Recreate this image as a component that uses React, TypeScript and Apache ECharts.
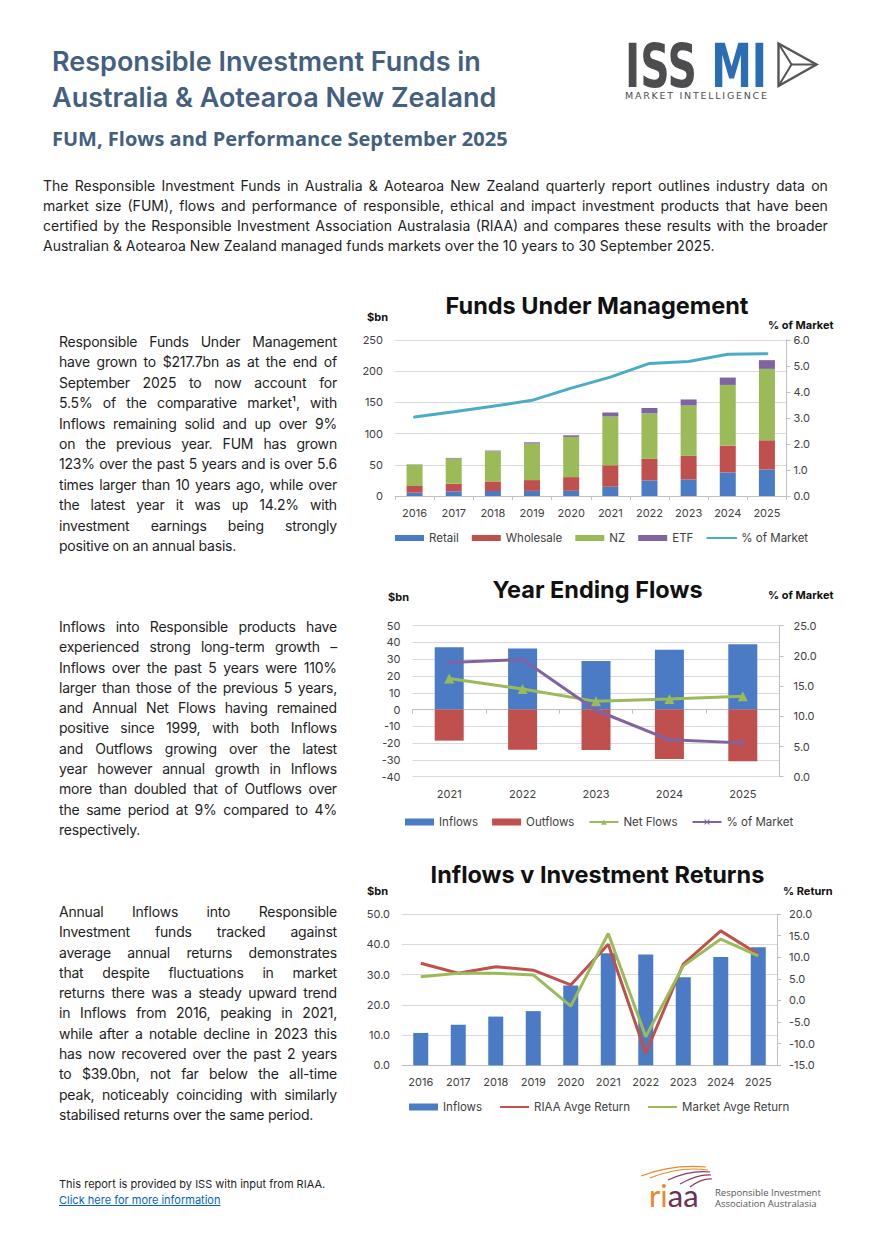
import React, { useEffect, useRef } from "react";
import * as echarts from "echarts";

// ---------------- DATA ----------------
const years10 = ["2016", "2017", "2018", "2019", "2020", "2021", "2022", "2023", "2024", "2025"];
const fumRetail = [5.3, 7.5, 8.0, 8.2, 8.3, 14.9, 25.0, 26.6, 37.7, 42.5];
const fumWholesale = [10.7, 12.2, 15.4, 17.3, 22.0, 34.5, 34.5, 37.7, 43.1, 46.8];
const fumNZ = [34.5, 40.3, 48.4, 58.5, 64.4, 78.2, 72.9, 80.7, 97.2, 114.4];
const fumETF = [0.3, 1.0, 1.0, 2.0, 2.6, 6.4, 8.6, 9.7, 11.8, 14.0];
const fumPctMarket = [3.04, 3.24, 3.45, 3.68, 4.15, 4.57, 5.1, 5.17, 5.45, 5.47];

const years5 = ["2021", "2022", "2023", "2024", "2025"];
const flowInflows = [37.1, 36.4, 29.0, 35.7, 39.0];
const flowOutflows = [-18.5, -24.0, -24.1, -29.4, -30.8];
const flowNet = [18.5, 12.3, 4.9, 6.3, 8.0];
const flowPctMarket = [18.9, 19.4, 11.0, 6.1, 5.6];

const retInflows = [10.7, 13.4, 16.1, 17.9, 26.4, 37.0, 36.6, 29.1, 35.8, 39.0];
const retRIAA = [8.6, 6.3, 7.8, 7.0, 3.6, 13.0, -12.2, 8.4, 16.1, 10.7];
const retMarket = [5.5, 6.3, 6.3, 5.9, -1.3, 15.5, -8.4, 8.0, 14.2, 10.3];

const introLines = [
  "The Responsible Investment Funds in Australia & Aotearoa New Zealand quarterly report outlines industry data on",
  "market size (FUM), flows and performance of responsible, ethical and impact investment products that have been",
  "certified by the Responsible Investment Association Australasia (RIAA) and compares these results with the broader",
  "Australian & Aotearoa New Zealand managed funds markets over the 10 years to 30 September 2025.",
];
const para1 = [
  "Responsible Funds Under Management",
  "have grown to $217.7bn as at the end of",
  "September 2025 to now account for",
  "5.5% of the comparative market¹, with",
  "Inflows remaining solid and up over 9%",
  "on the previous year. FUM has grown",
  "123% over the past 5 years and is over 5.6",
  "times larger than 10 years ago, while over",
  "the latest year it was up 14.2% with",
  "investment earnings being strongly",
  "positive on an annual basis.",
];
const para2 = [
  "Inflows into Responsible products have",
  "experienced strong long-term growth –",
  "Inflows over the past 5 years were 110%",
  "larger than those of the previous 5 years,",
  "and Annual Net Flows having remained",
  "positive since 1999, with both Inflows",
  "and Outflows growing over the latest",
  "year however annual growth in Inflows",
  "more than doubled that of Outflows over",
  "the same period at 9% compared to 4%",
  "respectively.",
];
const para3 = [
  "Annual Inflows into Responsible",
  "Investment funds tracked against",
  "average annual returns demonstrates",
  "that despite fluctuations in market",
  "returns there was a steady upward trend",
  "in Inflows from 2016, peaking in 2021,",
  "while after a notable decline in 2023 this",
  "has now recovered over the past 2 years",
  "to $39.0bn, not far below the all-time",
  "peak, noticeably coinciding with similarly",
  "stabilised returns over the same period.",
];

// ---------------- STYLE ----------------
const FONT = "Inter, 'Noto Sans', sans-serif";
const BLUE = "#4a7bc4";
const RED = "#c0504d";
const GREEN = "#9bbb59";
const PURPLE = "#8064a2";
const AQUA = "#4bacc6";
const LABEL = "#404040";
const GRIDC = "#d9d9d9";
const AXISC = "#bfbfbf";
const XPATH = "path://M0,1.4L1.4,0L5,3.6L8.6,0L10,1.4L6.4,5L10,8.6L8.6,10L5,6.4L1.4,10L0,8.6L3.6,5Z";

const fmt1 = (v: number) => v.toFixed(1);

function gText(text: string, x: number, y: number, size: number, weight: any, align: string) {
  return {
    type: "text",
    silent: true,
    style: {
      text,
      x,
      y,
      textAlign: align,
      textVerticalAlign: "middle",
      fontFamily: FONT,
      fontSize: size,
      fontWeight: weight,
      fill: "#111111",
    },
  };
}

const lbl = (margin: number, extra: any = {}) => ({ color: LABEL, fontFamily: FONT, fontSize: 11, margin, ...extra });
const legendText = { fontFamily: FONT, fontSize: 11.5, color: LABEL };
const noSymbol = { itemStyle: { opacity: 0 } };

const fumOption = {
  animation: false,
  textStyle: { fontFamily: FONT },
  graphic: [
    gText("Funds Under Management", 247, 25, 23.5, 700, "center"),
    gText("$bn", 17, 36.7, 11, 700, "left"),
    gText("% of Market", 418, 45, 11, 700, "left"),
  ],
  legend: {
    left: 45,
    top: 252,
    padding: 0,
    itemWidth: 29,
    itemHeight: 6,
    itemGap: 13,
    textStyle: legendText,
    data: [
      { name: "Retail", icon: "rect" },
      { name: "Wholesale", icon: "rect" },
      { name: "NZ", icon: "rect" },
      { name: "ETF", icon: "rect" },
      { name: "% of Market", ...noSymbol },
    ],
  },
  grid: { left: 45, top: 60, width: 391.5, height: 156 },
  xAxis: {
    type: "category",
    data: years10,
    axisLine: { lineStyle: { color: AXISC } },
    axisTick: { show: true, length: 4, lineStyle: { color: AXISC } },
    axisLabel: lbl(11),
  },
  yAxis: [
    {
      type: "value",
      min: 0,
      max: 250,
      interval: 50,
      axisLine: { show: false },
      axisTick: { show: false },
      splitLine: { lineStyle: { color: GRIDC } },
      axisLabel: lbl(12),
    },
    {
      type: "value",
      position: "right",
      min: 0,
      max: 6,
      interval: 1,
      axisLine: { show: true, lineStyle: { color: AXISC } },
      axisTick: { show: true, length: 4, lineStyle: { color: AXISC } },
      splitLine: { show: false },
      axisLabel: lbl(7, { formatter: fmt1 }),
    },
  ],
  series: [
    { name: "Retail", type: "bar", stack: "fum", barWidth: 16, data: fumRetail, itemStyle: { color: BLUE } },
    { name: "Wholesale", type: "bar", stack: "fum", barWidth: 16, data: fumWholesale, itemStyle: { color: RED } },
    { name: "NZ", type: "bar", stack: "fum", barWidth: 16, data: fumNZ, itemStyle: { color: GREEN } },
    { name: "ETF", type: "bar", stack: "fum", barWidth: 16, data: fumETF, itemStyle: { color: PURPLE } },
    {
      name: "% of Market",
      type: "line",
      yAxisIndex: 1,
      data: fumPctMarket,
      symbol: "none",
      lineStyle: { width: 3, color: AQUA, cap: "round" },
      itemStyle: { color: AQUA },
    },
  ],
};

const flowOption = {
  animation: false,
  textStyle: { fontFamily: FONT },
  graphic: [
    gText("Year Ending Flows", 247.5, 24, 23.5, 700, "center"),
    gText("$bn", 38, 31.7, 11, 700, "left"),
    gText("% of Market", 418, 30, 11, 700, "left"),
  ],
  legend: {
    left: 55,
    top: 251,
    padding: 0,
    itemWidth: 29,
    itemHeight: 7,
    itemGap: 14,
    textStyle: legendText,
    data: [
      { name: "Inflows", icon: "rect" },
      { name: "Outflows", icon: "rect" },
      { name: "Net Flows" },
      { name: "% of Market" },
    ],
  },
  grid: { left: 62.5, top: 60.7, width: 367, height: 151 },
  xAxis: [
    {
      type: "category",
      data: years5,
      position: "bottom",
      axisLine: { show: false, onZero: false },
      axisTick: { show: false },
      axisLabel: lbl(12),
    },
    {
      type: "category",
      data: years5,
      position: "bottom",
      axisLine: { show: true, onZero: true, onZeroAxisIndex: 0, lineStyle: { color: AXISC } },
      axisTick: { show: true, length: 4, lineStyle: { color: AXISC } },
      axisLabel: { show: false },
    },
  ],
  yAxis: [
    {
      type: "value",
      min: -40,
      max: 50,
      interval: 10,
      axisLine: { show: false },
      axisTick: { show: false },
      splitLine: { lineStyle: { color: GRIDC } },
      axisLabel: lbl(12),
    },
    {
      type: "value",
      position: "right",
      min: 0,
      max: 25,
      interval: 5,
      axisLine: { show: true, lineStyle: { color: AXISC } },
      axisTick: { show: true, length: 4, lineStyle: { color: AXISC } },
      splitLine: { show: false },
      axisLabel: lbl(14, { formatter: fmt1 }),
    },
  ],
  series: [
    { name: "Inflows", type: "bar", barWidth: 29, data: flowInflows, itemStyle: { color: BLUE } },
    { name: "Outflows", type: "bar", barWidth: 29, barGap: "-100%", data: flowOutflows, itemStyle: { color: RED } },
    {
      name: "Net Flows",
      type: "line",
      data: flowNet,
      symbol: "triangle",
      symbolSize: 10,
      lineStyle: { width: 3, color: GREEN },
      itemStyle: { color: GREEN },
    },
    {
      name: "% of Market",
      type: "line",
      yAxisIndex: 1,
      data: flowPctMarket,
      symbol: XPATH,
      symbolSize: 6,
      lineStyle: { width: 3, color: PURPLE },
      itemStyle: { color: PURPLE },
    },
  ],
};

const retOption = {
  animation: false,
  textStyle: { fontFamily: FONT },
  graphic: [
    gText("Inflows v Investment Returns", 247.5, 24, 23.5, 700, "center"),
    gText("$bn", 17, 40.7, 11, 700, "left"),
    gText("% Return", 433, 40.7, 11, 700, "left"),
  ],
  legend: {
    left: 59,
    top: 251,
    padding: 0,
    itemWidth: 29,
    itemHeight: 7,
    itemGap: 17,
    textStyle: legendText,
    data: [
      { name: "Inflows", icon: "rect" },
      { name: "RIAA Avge Return", ...noSymbol },
      { name: "Market Avge Return", ...noSymbol },
    ],
  },
  grid: { left: 52, top: 64, width: 375, height: 151.3 },
  xAxis: {
    type: "category",
    data: years10,
    axisLine: { show: true, onZero: false, lineStyle: { color: AXISC } },
    axisTick: { show: false },
    axisLabel: lbl(11),
  },
  yAxis: [
    {
      type: "value",
      min: 0,
      max: 50,
      interval: 10,
      axisLine: { show: false },
      axisTick: { show: false },
      splitLine: { lineStyle: { color: GRIDC } },
      axisLabel: lbl(12, { formatter: fmt1 }),
    },
    {
      type: "value",
      position: "right",
      min: -15,
      max: 20,
      interval: 5,
      axisLine: { show: true, lineStyle: { color: AXISC } },
      axisTick: { show: true, length: 4, lineStyle: { color: AXISC } },
      splitLine: { show: false },
      axisLabel: lbl(12, { formatter: fmt1 }),
    },
  ],
  series: [
    { name: "Inflows", type: "bar", barWidth: 15, data: retInflows, itemStyle: { color: BLUE } },
    {
      name: "RIAA Avge Return",
      type: "line",
      yAxisIndex: 1,
      data: retRIAA,
      symbol: "none",
      lineStyle: { width: 3, color: RED },
      itemStyle: { color: RED },
    },
    {
      name: "Market Avge Return",
      type: "line",
      yAxisIndex: 1,
      data: retMarket,
      symbol: "none",
      lineStyle: { width: 3, color: GREEN },
      itemStyle: { color: GREEN },
    },
  ],
};

// ---------------- COMPONENTS ----------------
function EChart({ option, style }: { option: any; style: React.CSSProperties }) {
  const ref = useRef<HTMLDivElement>(null);
  useEffect(() => {
    if (!ref.current) return;
    const chart = echarts.init(ref.current, null, { renderer: "svg" });
    chart.setOption(option);
    return () => chart.dispose();
  }, []);
  return <div ref={ref} style={style} />;
}

function Para({
  lines,
  left,
  top,
  width,
  lineHeight,
  fontSize,
  letterSpacing = 0,
}: {
  lines: string[];
  left: number;
  top: number;
  width: number;
  lineHeight: number;
  fontSize: number;
  letterSpacing?: number;
}) {
  return (
    <div
      style={{
        position: "absolute",
        left,
        top,
        width,
        fontSize,
        letterSpacing,
        lineHeight: lineHeight + "px",
        color: "#1e1e1e",
        fontFamily: FONT,
      }}
    >
      {lines.map((l, i) => {
        const justify = i < lines.length - 1;
        if (!justify) {
          return (
            <div key={i} style={{ whiteSpace: "nowrap", height: lineHeight }}>
              {l}
            </div>
          );
        }
        const words = l.split(" ");
        return (
          <div
            key={i}
            style={{ display: "flex", justifyContent: "space-between", whiteSpace: "nowrap", height: lineHeight }}
          >
            {words.map((w, j) => (
              <span key={j}>{w}</span>
            ))}
          </div>
        );
      })}
    </div>
  );
}

function IssLogo() {
  return (
    <svg style={{ position: "absolute", left: 600, top: 30 }} width={240} height={80} viewBox="600 30 240 80">
      <defs>
        <linearGradient id="issmiFill" gradientUnits="userSpaceOnUse" x1={625} y1={0} x2={767} y2={0}>
          <stop offset="0" stopColor="#4d4d4f" />
          <stop offset="0.56" stopColor="#4d4d4f" />
          <stop offset="0.56" stopColor="#2a6db5" />
          <stop offset="1" stopColor="#2a6db5" />
        </linearGradient>
      </defs>
      <text
        x={625}
        y={87}
        fontFamily="'DejaVu Sans Condensed', 'DejaVu Sans', sans-serif"
        fontWeight="bold"
        fontSize={60}
        fill="url(#issmiFill)"
        textLength={142}
        lengthAdjust="spacingAndGlyphs"
      >
        ISS MI
      </text>
      <polygon points="778.5,43.5 816.5,64.5 778.5,86" fill="none" stroke="#555" strokeWidth={2.4} strokeLinejoin="miter" />
      <polyline points="778.5,43.5 791.5,64.5 778.5,86" fill="none" stroke="#555" strokeWidth={2} />
      <line x1={791.5} y1={64.5} x2={816.5} y2={64.5} stroke="#555" strokeWidth={2} />
      <text
        x={625}
        y={99}
        fontFamily="'DejaVu Sans', sans-serif"
        fontSize={9.5}
        fill="#4d4d4f"
        textLength={142}
        lengthAdjust="spacing"
      >
        MARKET INTELLIGENCE
      </text>
    </svg>
  );
}

function RiaaLogo() {
  return (
    <svg style={{ position: "absolute", left: 630, top: 1160 }} width={200} height={55} viewBox="630 1160 200 55">
      <path d="M641,1176 Q672,1164 706,1167" fill="none" stroke="#e8892f" strokeWidth={1.2} />
      <path d="M650,1178 Q680,1166 708,1170" fill="none" stroke="#e8892f" strokeWidth={1.2} />
      <path d="M668,1180 Q690,1170 710,1172" fill="none" stroke="#8a3a5e" strokeWidth={1.2} />
      <path d="M680,1184 Q698,1174 711,1175" fill="none" stroke="#8a3a5e" strokeWidth={1.2} />
      <path d="M690,1187 Q702,1178 712,1179" fill="none" stroke="#8a3a5e" strokeWidth={1.2} />
      <text x={649} y={1207} fontFamily="Lato, 'Open Sans', sans-serif" fontSize={31}>
        <tspan fill="#e8892f">ri</tspan>
        <tspan fill="#6d2f52">aa</tspan>
      </text>
      <text x={715} y={1196} fontFamily="'Open Sans', sans-serif" fontSize={9.5} fill="#555">
        Responsible Investment
      </text>
      <text x={715} y={1207} fontFamily="'Open Sans', sans-serif" fontSize={9.5} fill="#555">
        Association Australasia
      </text>
    </svg>
  );
}

export default function App() {
  return (
    <div
      style={{
        position: "absolute",
        left: 0,
        top: 0,
        width: 880,
        height: 1250,
        overflow: "hidden",
        background: "#ffffff",
        fontFamily: FONT,
      }}
    >
      <div
        style={{
          position: "absolute",
          left: 52,
          top: 44,
          fontSize: 27,
          lineHeight: "36px",
          fontWeight: 600,
          color: "#44607f",
          whiteSpace: "nowrap",
          fontFamily: FONT,
        }}
      >
        <div>Responsible Investment Funds in</div>
        <div>Australia &amp; Aotearoa New Zealand</div>
      </div>
      <div
        style={{
          position: "absolute",
          left: 52,
          top: 125,
          fontSize: 20,
          lineHeight: "28px",
          fontWeight: 700,
          color: "#44607f",
          whiteSpace: "nowrap",
          fontFamily: "'Open Sans', sans-serif",
        }}
      >
        FUM, Flows and Performance September 2025
      </div>
      <IssLogo />

      <Para lines={introLines} left={43} top={176} width={785} lineHeight={20} fontSize={14} />
      <Para lines={para1} left={59} top={332} width={278} lineHeight={20.4} fontSize={14} letterSpacing={-0.2} />
      <Para lines={para2} left={59} top={617} width={278} lineHeight={20.3} fontSize={14} letterSpacing={-0.2} />
      <Para lines={para3} left={59} top={902} width={278} lineHeight={20.3} fontSize={14} letterSpacing={-0.2} />

      <EChart option={fumOption} style={{ position: "absolute", left: 350, top: 280, width: 530, height: 280 }} />
      <EChart option={flowOption} style={{ position: "absolute", left: 350, top: 565, width: 530, height: 280 }} />
      <EChart option={retOption} style={{ position: "absolute", left: 350, top: 850, width: 530, height: 280 }} />

      <div
        style={{
          position: "absolute",
          left: 59,
          top: 1176,
          fontSize: 11,
          lineHeight: "16px",
          color: "#1e1e1e",
          fontFamily: FONT,
          whiteSpace: "nowrap",
        }}
      >
        <div>This report is provided by ISS with input from RIAA.</div>
        <div style={{ color: "#0563c1", textDecoration: "underline" }}>Click here for more information</div>
      </div>
      <RiaaLogo />
    </div>
  );
}
